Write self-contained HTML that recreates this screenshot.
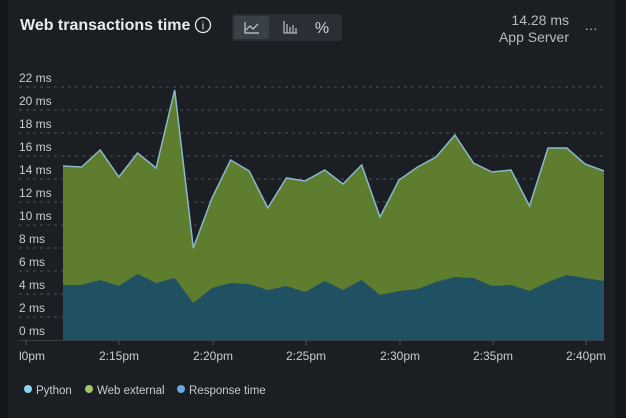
<!DOCTYPE html>
<html><head><meta charset="utf-8"><style>
body{margin:0;width:626px;height:418px;background:#14171b;overflow:hidden;font-family:"Liberation Sans",sans-serif}
#card{position:absolute;left:8px;top:0;width:607px;height:418px;background:#1b1f24}
</style></head><body>
<div id="card"></div>
<svg width="626" height="418" style="position:absolute;left:0;top:0" font-family="Liberation Sans, sans-serif">
<text x="20" y="30" fill="#e8eaec" font-size="16" font-weight="bold">Web transactions time</text>
<circle cx="203" cy="25" r="7.5" fill="none" stroke="#e8eaec" stroke-width="1.3"/>
<text x="203" y="29.5" fill="#e8eaec" font-size="11" text-anchor="middle">i</text>
<rect x="232" y="14" width="110" height="27" rx="3" fill="#2a2f35"/>
<rect x="234" y="16" width="35" height="23" rx="2" fill="#3a4047"/>
<path d="M245 22v11h14M246 30l4-4 3 3 5-5" stroke="#c8ccd0" fill="none" stroke-width="1.2"/>
<path d="M284 21v12h13M287 24v9M290 27v6M293 25v8M296 28v5" stroke="#c8ccd0" fill="none" stroke-width="1.1"/>
<text x="322" y="33" fill="#d0d4d8" font-size="16" text-anchor="middle">%</text>
<text x="569" y="25" fill="#b8bcc0" font-size="14" text-anchor="end">14.28 ms</text>
<text x="569" y="42" fill="#b8bcc0" font-size="14" text-anchor="end">App Server</text>
<text x="591" y="33" fill="#c8ccd0" font-size="13" text-anchor="middle">···</text>
<g fill="#c8ccd0" font-size="12">
<text x="19" y="82">22 ms</text><text x="19" y="105">20 ms</text><text x="19" y="128">18 ms</text><text x="19" y="151">16 ms</text><text x="19" y="174">14 ms</text><text x="19" y="197">12 ms</text><text x="19" y="220">10 ms</text><text x="19" y="243">8 ms</text><text x="19" y="266">6 ms</text><text x="19" y="289">4 ms</text><text x="19" y="312">2 ms</text><text x="19" y="335">0 ms</text>
</g>
<g stroke="#4a5058" stroke-dasharray="3,4" stroke-width="1">
<line x1="19" x2="604" y1="87" y2="87"/><line x1="19" x2="604" y1="110" y2="110"/><line x1="19" x2="604" y1="133" y2="133"/><line x1="19" x2="604" y1="156" y2="156"/><line x1="19" x2="604" y1="179" y2="179"/><line x1="19" x2="604" y1="202" y2="202"/><line x1="19" x2="604" y1="225" y2="225"/><line x1="19" x2="604" y1="248" y2="248"/><line x1="19" x2="604" y1="271" y2="271"/><line x1="19" x2="604" y1="294" y2="294"/><line x1="19" x2="604" y1="317" y2="317"/>
</g>
<polygon fill="#5f7d2e" points="63,340 63,166 81.6,167 100.2,150 118.9,177 137.5,153 156.1,168 174.7,90 193.3,248 212,198 230.6,160 249.2,171 267.8,208 286.4,178 305,181 324.7,170 343,184 361.7,165 380,217 399,180 417.6,167 436,157 454.9,135 473.5,163 492,172 511,170 529.5,206 548,148 566.8,148 585,164 604,171 604,340"/>
<polyline fill="none" stroke="#8ab8cc" stroke-width="1.5" points="63,166 81.6,167 100.2,150 118.9,177 137.5,153 156.1,168 174.7,90 193.3,248 212,198 230.6,160 249.2,171 267.8,208 286.4,178 305,181 324.7,170 343,184 361.7,165 380,217 399,180 417.6,167 436,157 454.9,135 473.5,163 492,172 511,170 529.5,206 548,148 566.8,148 585,164 604,171"/>
<polygon fill="#1f5163" points="63,340 63,285 81.6,285 100.2,280 118.9,286 137.5,274 156.1,283 174.7,278 193.3,303 212,288 230.6,283 249.2,284 267.8,290 286.4,286 305,292 324.7,281 343,290 361.7,280 380,295 399,291 417.6,289 436,282 454.9,277 473.5,278 492,286 511,285 529.5,291 548,282 566.8,275 585,278 604,281 604,340"/>
<line x1="19" x2="604" y1="340.5" y2="340.5" stroke="#3a4048"/>
<g stroke="#4a5058"><line x1="26" x2="26" y1="341" y2="345"/><line x1="119" x2="119" y1="341" y2="345"/><line x1="213" x2="213" y1="341" y2="345"/><line x1="306" x2="306" y1="341" y2="345"/><line x1="400" x2="400" y1="341" y2="345"/><line x1="493" x2="493" y1="341" y2="345"/><line x1="586" x2="586" y1="341" y2="345"/></g>
<g fill="#c8ccd0" font-size="12" text-anchor="middle">
<text x="32" y="360">l0pm</text><text x="119" y="360">2:15pm</text><text x="213" y="360">2:20pm</text><text x="306" y="360">2:25pm</text><text x="400" y="360">2:30pm</text><text x="493" y="360">2:35pm</text><text x="586" y="360">2:40pm</text>
</g>
<circle cx="28" cy="389" r="4" fill="#8fd3e8"/><text x="36" y="394" fill="#c8ccd0" font-size="11.5">Python</text>
<circle cx="89" cy="389" r="4" fill="#9ec66a"/><text x="97" y="394" fill="#c8ccd0" font-size="11.5">Web external</text>
<circle cx="181" cy="389" r="4" fill="#6fa8e0"/><text x="189" y="394" fill="#c8ccd0" font-size="11.5">Response time</text>
</svg>
</body></html>
